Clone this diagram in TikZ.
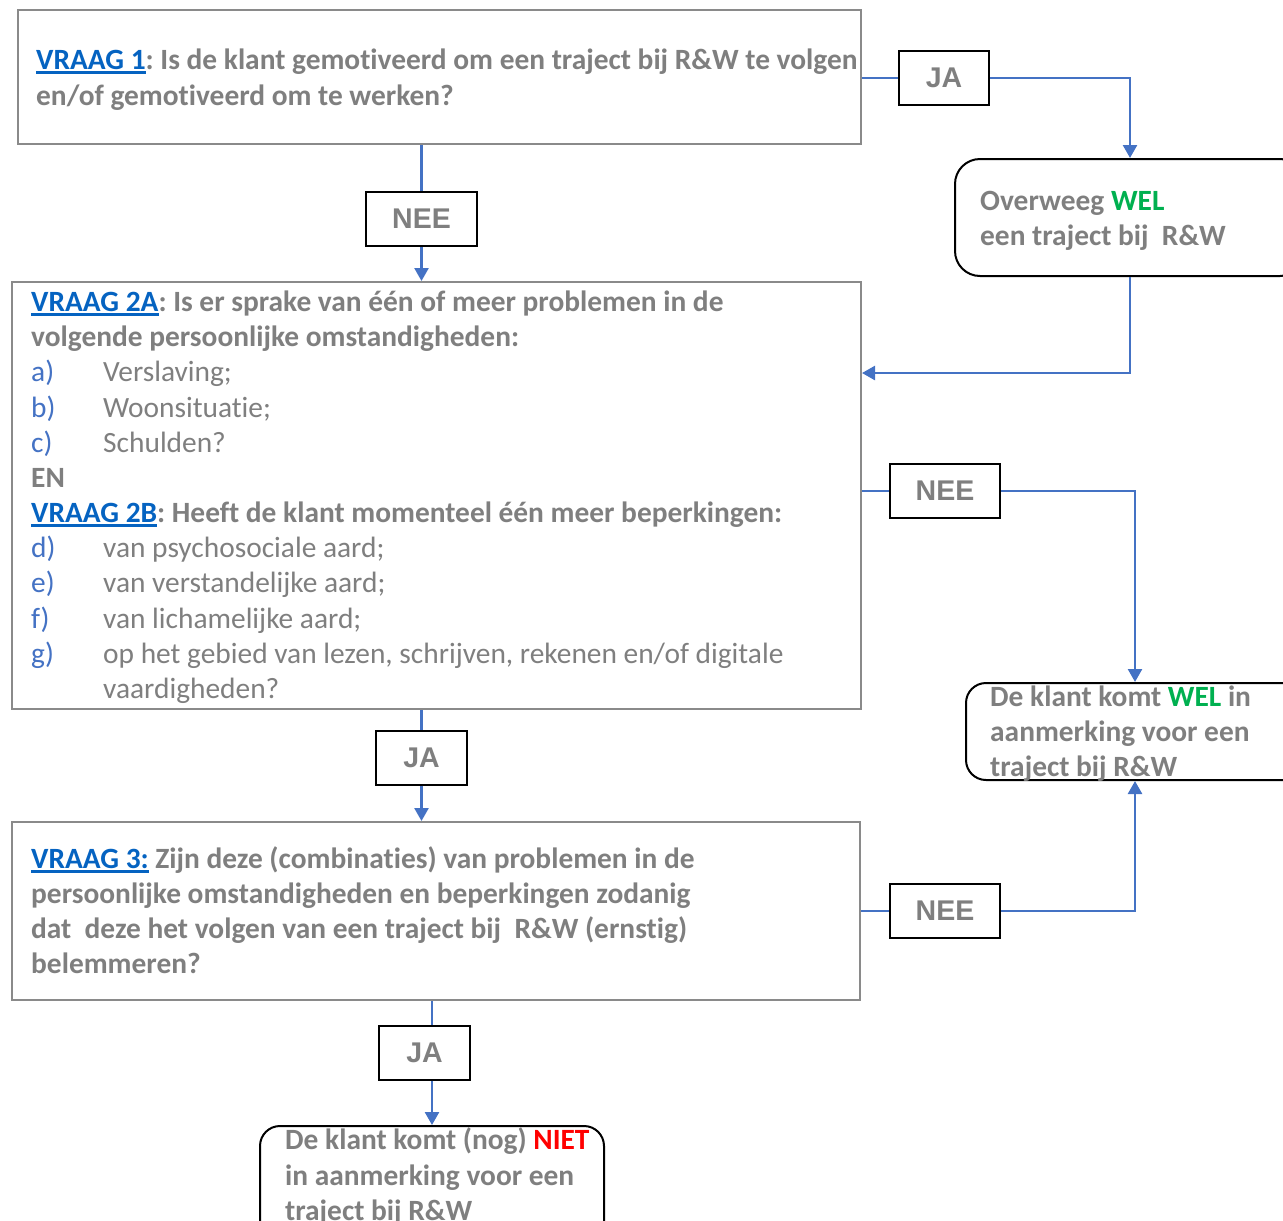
\documentclass[tikz,border=0pt]{standalone}
\usepackage{fontspec}
\setmainfont[Ligatures=NoCommon]{Carlito}
\newfontfamily\arialf{Liberation Sans}
\usetikzlibrary{arrows.meta}
\definecolor{tgray}{HTML}{7F7F7F}
\definecolor{bgray}{HTML}{8A8A8A}
\definecolor{vblue}{HTML}{0563C1}
\definecolor{lblue}{HTML}{4472C4}
\definecolor{wgreen}{HTML}{00B050}
\definecolor{nred}{HTML}{FF0000}
\frenchspacing
\newcommand\vul[1]{\setbox0\hbox{#1}\rlap{\rule[-4.5pt]{\wd0}{2.3pt}}\box0}
\newcommand\vraag[1]{\textcolor{vblue}{\vul{#1}}}
\begin{document}
\begin{tikzpicture}[x=1pt,y=1pt,
 txt/.style={anchor=base west, inner sep=0pt, text=tgray, font=\fontsize{29.4}{35}\selectfont\bfseries},
 itm/.style={anchor=base west, inner sep=0pt, text=tgray, font=\fontsize{29.4}{35}\selectfont},
 lbl/.style={anchor=base west, inner sep=0pt, text=lblue, font=\fontsize{29.4}{35}\selectfont},
 qbox/.style={draw=bgray, line width=2pt, fill=white, anchor=north west, inner sep=0pt},
 ansbox/.style={draw=black, line width=2pt, fill=white, inner sep=0pt, minimum height=54pt, text=tgray, font=\arialf\bfseries\fontsize{28.5}{30}\selectfont},
 endbox/.style={draw=black, line width=2pt, fill=white, anchor=north west, inner sep=0pt},
 con/.style={draw=lblue, line width=2.5pt},
 arr/.style={con, -{Triangle[width=14pt,length=13pt]}}
]
\useasboundingbox (0,0) rectangle (1283,-1221);
\clip (0,0) rectangle (1283,-1221);

% boxes
\node[qbox, minimum width=843pt, minimum height=134pt] (q1) at (17,-9) {};
\node[qbox, minimum width=849pt, minimum height=427pt] (q2) at (11,-281) {};
\node[qbox, minimum width=848pt, minimum height=178pt] (q3) at (11,-821) {};
\node[endbox, rounded corners=25pt, minimum width=350pt, minimum height=117pt] (ov) at (954,-158) {};
\node[endbox, rounded corners=20pt, minimum width=338pt, minimum height=97pt] (wel) at (965,-682) {};
\node[endbox, rounded corners=20pt, minimum width=344pt, minimum height=130pt] (niet) at (259,-1125) {};

% answer boxes
\node[ansbox, minimum width=90pt] (ja1) at (944,-78) {JA};
\node[ansbox, minimum width=111pt] (nee1) at (421.5,-219) {NEE};
\node[ansbox, minimum width=110pt] (nee2) at (945,-491) {NEE};
\node[ansbox, minimum width=91pt] (ja2) at (421.5,-757.5) {JA};
\node[ansbox, minimum width=110pt] (nee3) at (945,-911) {NEE};
\node[ansbox, minimum width=91pt] (ja3) at (424.5,-1052.5) {JA};

% texts box 1
\node[txt] (t1a) at (36,-69) {\vraag{VRAAG 1}: Is de klant gemotiveerd om een traject bij R\&W te volgen};
\node[txt] (t1b) at (36,-105) {en/of gemotiveerd om te werken?};

% texts box 2
\node[txt] (t2a) at (31,-311) {\vraag{VRAAG 2A}: Is er sprake van één of meer problemen in de};
\node[txt] (t2b) at (31,-346) {volgende persoonlijke omstandigheden:};
\node[lbl] (la) at (31,-381) {a)};
\node[itm] (ia) at (103,-381) {Verslaving;};
\node[lbl] (lb) at (31,-417) {b)};
\node[itm] (ib) at (103,-417) {Woonsituatie;};
\node[lbl] (lc) at (31,-452) {c)};
\node[itm] (ic) at (103,-452) {Schulden?};
\node[txt] (ten) at (31,-487) {EN};
\node[txt] (t2c) at (31,-522) {\vraag{VRAAG 2B}: Heeft de klant momenteel één meer beperkingen:};
\node[lbl] (ld) at (31,-557) {d)};
\node[itm] (id) at (103,-557) {van psychosociale aard;};
\node[lbl] (le) at (31,-592) {e)};
\node[itm] (ie) at (103,-592) {van verstandelijke aard;};
\node[lbl] (lf) at (31,-628) {f)};
\node[itm] (if) at (103,-628) {van lichamelijke aard;};
\node[lbl] (lg) at (31,-663) {g)};
\node[itm] (ig) at (103,-663) {op het gebied van lezen, schrijven, rekenen en/of digitale};
\node[itm] (ig2) at (103,-698) {vaardigheden?};

% texts box 3
\node[txt] (t3a) at (31,-868) {\vraag{VRAAG 3:} Zijn deze (combinaties) van problemen in de};
\node[txt] (t3b) at (31,-903) {persoonlijke omstandigheden en beperkingen zodanig};
\node[txt] (t3c) at (31,-938) {dat\ \ deze het volgen van een traject bij\ \ R\&W (ernstig)};
\node[txt] (t3d) at (31,-973) {belemmeren?};

% end boxes texts
\node[txt] (tova) at (980,-210) {Overweeg \textcolor{wgreen}{WEL}};
\node[txt] (tovb) at (980,-245) {een traject bij\ \ R\&W};
\node[txt] (twa) at (990,-706) {De klant komt \textcolor{wgreen}{WEL} in};
\node[txt] (twb) at (990,-741) {aanmerking voor een};
\node[txt] (twc) at (990,-776) {traject bij R\&W};
\node[txt] (tna) at (285,-1149) {De klant komt (nog) \textcolor{nred}{NIET}};
\node[txt] (tnb) at (285,-1185) {in aanmerking voor een};
\node[txt] (tnc) at (285,-1220) {traject bij R\&W};

% connectors
\coordinate (m1) at (0,-373);
\draw[con] (q1.east |- ja1) -- (ja1.west);
\draw[arr] (ja1.east) -| (ov.north);
\draw[arr] (ov.south) |- (q2.east |- m1);
\draw[con] (q1.south -| nee1) -- (nee1.north);
\draw[arr] (nee1.south) -- (q2.north -| nee1);
\draw[con] (q2.east |- nee2) -- (nee2.west);
\draw[arr] (nee2.east) -| (wel.north);
\draw[con] (q2.south -| ja2) -- (ja2.north);
\draw[arr] (ja2.south) -- (q3.north -| ja2);
\draw[con] (q3.east |- nee3) -- (nee3.west);
\draw[arr] (nee3.east) -| (wel.south);
\draw[con] (q3.south -| niet) -- (ja3.north -| niet);
\draw[arr] (ja3.south -| niet) -- (niet.north);
\end{tikzpicture}
\end{document}
